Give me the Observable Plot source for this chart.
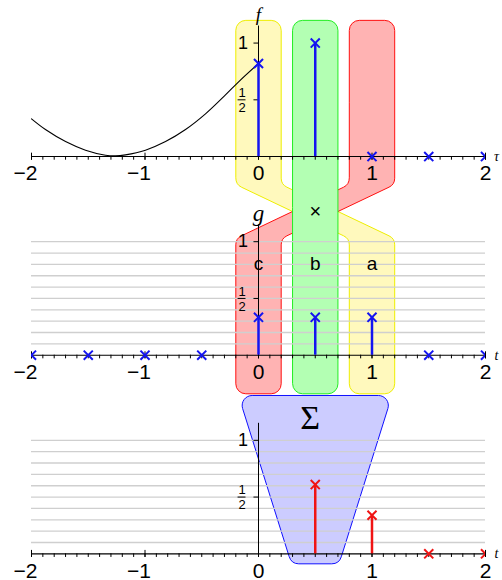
<!DOCTYPE html>
<html><head><meta charset="utf-8">
<script src="https://cdn.jsdelivr.net/npm/d3@7"></script>
<script src="https://cdn.jsdelivr.net/npm/@observablehq/plot@0.6"></script>
<style>body{margin:0;background:#fff} svg{display:block}</style>
</head><body><div id="chart"></div>
<script>
// ---- data ----
const fTau = [0, 0.5, 1, 1.5, 2];
const fVal = [0.82, 1, 0, 0, 0];
const gTau = [-2, -1.5, -1, -0.5, 0, 0.5, 1, 1.5, 2];
const gVal = [0, 0, 0, 0, 1/3, 1/3, 1/3, 0, 0];
const hTau = [0.5, 1, 1.5, 2];
const hVal = [0.61, 0.34, 0, 0];
const curveTau = [-2, -1.877, -1.70, -1.524, -1.348, -1.26, -1.172, -0.996, -0.819, -0.643, -0.467, -0.291, -0.173, 0];
const curveVal = [0.332, 0.238, 0.132, 0.056, 0.012, 0.006, 0.015, 0.056, 0.132, 0.238, 0.376, 0.543, 0.661, 0.82];
const xTickValues = [-2, -1, 0, 1, 2];
const xTickLabels = ["\u22122", "\u22121", "0", "1", "2"];
const panelBase = [3.5, 1.75, 0];        // vertical offset of each panel
const panelNames = ["f", "g", ""];
const panelNameSize = [19, 23, 19];
const axisNames = ["\u03c4", "t", "t"];
const columnCenters = [0, 0.5, 1];
const columnLetters = ["c", "b", "a"];

// ---- helpers ----
function rounded(radius) {
  return function(context) {
    let pts = [];
    return {
      areaStart() {}, areaEnd() {},
      lineStart() { pts = []; },
      point(x, y) { pts.push([+x, +y]); },
      lineEnd() {
        const n = pts.length; if (!n) return;
        context.moveTo((pts[n-1][0] + pts[0][0]) / 2, (pts[n-1][1] + pts[0][1]) / 2);
        for (let i = 0; i < n; i++) {
          const p = pts[i], q = pts[(i + 1) % n];
          context.arcTo(p[0], p[1], q[0], q[1], radius);
        }
        context.closePath();
      }
    };
  };
}
const P = (x, y) => ({x, y});
const hw = 0.2;
const [c0, c1, c2] = columnCenters;
const topY = panelBase[0] + 1.2;
const joinTop = panelBase[0] - 0.246;
const joinBot = panelBase[1] + 1.028;
const colBot = panelBase[1] - 0.34;
const crossY = (joinTop + joinBot) / 2;

const yellow = [P(c0-hw, topY), P(c0+hw, topY), P(c0+hw, joinTop), P(c2+hw, joinBot),
                P(c2+hw, colBot), P(c2-hw, colBot), P(c2-hw, joinBot), P(c0-hw, joinTop)];
const red = [P(c2-hw, topY), P(c2+hw, topY), P(c2+hw, joinTop), P(c0+hw, joinBot),
             P(c0+hw, colBot), P(c0-hw, colBot), P(c0-hw, joinBot), P(c2-hw, joinTop)];
const green = [P(c1-hw, topY), P(c1+hw, topY), P(c1+hw, colBot), P(c1-hw, colBot)];
const blueTop = panelBase[1] - 0.355, blueBot = -0.088;
const blue = [P(c1-0.676, blueTop), P(c1+0.676, blueTop), P(c1+0.21, blueBot), P(c1-0.21, blueBot)];

const fData = fTau.map((t, i) => ({x: t, v: fVal[i], base: panelBase[0]}));
const gData = gTau.map((t, i) => ({x: t, v: gVal[i], base: panelBase[1]}));
const hData = hTau.map((t, i) => ({x: t, v: hVal[i], base: panelBase[2]}));
const curveData = curveTau.map((t, i) => ({x: t, y: panelBase[0] + curveVal[i]}));

const panels = panelBase.map((b, i) => ({base: b, name: panelNames[i], size: panelNameSize[i], axis: axisNames[i]}));
const minor = d3.range(-20, 21).map(i => i / 10);
const minorData = panels.flatMap(p => minor.map(x => ({x, base: p.base})));
const majorData = panels.flatMap(p => xTickValues.map((x, i) => ({x, base: p.base, label: xTickLabels[i]})));
const gridData = panels.slice(1).flatMap(p => d3.range(1, 11).map(i => ({y: p.base + i / 10})));
const yTickData = panels.flatMap(p => [0.5, 1].map(v => ({y: p.base + v})));

const sans = "Liberation Sans, Arial, sans-serif";
const serif = "Liberation Serif, DejaVu Serif, serif";
const BLUE = "#1414f0", RED = "#f01414";

const chart = Plot.plot({
  width: 502, height: 580,
  marginLeft: 31, marginRight: 17, marginTop: 0, marginBottom: 0,
  x: {domain: [-2, 2], axis: null},
  y: {domain: [-0.235, 4.875], axis: null},
  style: {background: "white", overflow: "visible"},
  marks: [
    Plot.line(yellow, {x: "x", y: "y", fill: "#fff9bd", stroke: "#eeee00", strokeWidth: 1, curve: rounded(10)}),
    Plot.line(red, {x: "x", y: "y", fill: "#ffb3b3", stroke: "#ff1010", strokeWidth: 1, curve: rounded(10)}),
    Plot.line(green, {x: "x", y: "y", fill: "#b3ffb3", stroke: "#22ee22", strokeWidth: 1, curve: rounded(10)}),
    Plot.line(blue, {x: "x", y: "y", fill: "#ccccff", stroke: "#1010ff", strokeWidth: 1, curve: rounded(10)}),
    Plot.ruleY(gridData, {y: "y", x1: -2, x2: 2, stroke: "#cfcfcf", strokeWidth: 1.3}),
    Plot.line(curveData, {x: "x", y: "y", stroke: "black", strokeWidth: 1.1, curve: "catmull-rom"}),
    // x axes
    Plot.ruleY(panels, {y: "base", x1: -2, x2: 2, stroke: "black", strokeWidth: 1.1}),
    Plot.ruleX(minorData, {x: "x", y1: "base", y2: d => d.base - 0.032, stroke: "black", strokeWidth: 1}),
    Plot.ruleX(majorData, {x: "x", y1: d => d.base + 0.03, y2: d => d.base - 0.032, stroke: "black", strokeWidth: 1}),
    Plot.text(majorData, {x: "x", y: "base", text: "label", dy: 17, textAnchor: "end", dx: 6, fontSize: 21, fontFamily: sans, fill: "black"}),
    Plot.text(panels, {x: 2, y: "base", text: "axis", dx: 11, fontSize: 14, fontStyle: "italic", fontFamily: serif, fill: "black"}),
    // y axes
    Plot.ruleX(panels, {x: 0, y1: "base", y2: d => d.base + 1.15, stroke: "black", strokeWidth: 1}),
    Plot.ruleY(yTickData, {y: "y", x1: 0, x2: -0.04, stroke: "black", strokeWidth: 1}),
    Plot.text(panels, {x: 0, y: d => d.base + 1, text: () => "1", dx: -15.5, fontSize: 18, fontFamily: sans, fill: "black"}),
    Plot.text(panels, {x: 0, y: d => d.base + 0.5, text: () => "1", dx: -16.5, dy: -7, fontSize: 13, fontFamily: sans, fill: "black"}),
    Plot.text(panels, {x: 0, y: d => d.base + 0.5, text: () => "2", dx: -16.5, dy: 8, fontSize: 13, fontFamily: sans, fill: "black"}),
    Plot.ruleY(panels, {y: d => d.base + 0.5, x1: -0.18, x2: -0.11, stroke: "black", strokeWidth: 1}),
    Plot.text(panels, {x: 0, y: d => d.base + 1.25, text: "name", fontSize: d => d.size, fontStyle: "italic", fontFamily: serif, fill: "black"}),
    // stems + samples
    Plot.ruleX(fData.filter(d => d.v > 0), {x: "x", y1: "base", y2: d => d.base + d.v, stroke: BLUE, strokeWidth: 2.5}),
    Plot.ruleX(gData.filter(d => d.v > 0), {x: "x", y1: "base", y2: d => d.base + d.v, stroke: BLUE, strokeWidth: 2.5}),
    Plot.ruleX(hData.filter(d => d.v > 0), {x: "x", y1: "base", y2: d => d.base + d.v, stroke: RED, strokeWidth: 2.5}),
    Plot.dot(fData, {x: "x", y: d => d.base + d.v, symbol: "times", r: 4.2, stroke: BLUE, strokeWidth: 2, clip: true}),
    Plot.dot(gData, {x: "x", y: d => d.base + d.v, symbol: "times", r: 4.2, stroke: BLUE, strokeWidth: 2, clip: true}),
    Plot.dot(hData, {x: "x", y: d => d.base + d.v, symbol: "times", r: 4.2, stroke: RED, strokeWidth: 2, clip: true}),
    // operation labels
    Plot.text(columnCenters, {x: d => d, y: panelBase[1] + 0.8, text: (d, i) => columnLetters[i], fontSize: 19, fontFamily: sans, fill: "black"}),
    Plot.text(["\u00d7"], {x: c1, y: crossY, text: d => d, fontSize: 20, fontFamily: sans, fill: "black"}),
    Plot.text(["\u03a3"], {x: c1, y: blueTop - 0.2, text: d => d, dx: -5, fontSize: 34, fontFamily: serif, fill: "black"})
  ]
});
document.getElementById("chart").appendChild(chart);
</script>
</body></html>
